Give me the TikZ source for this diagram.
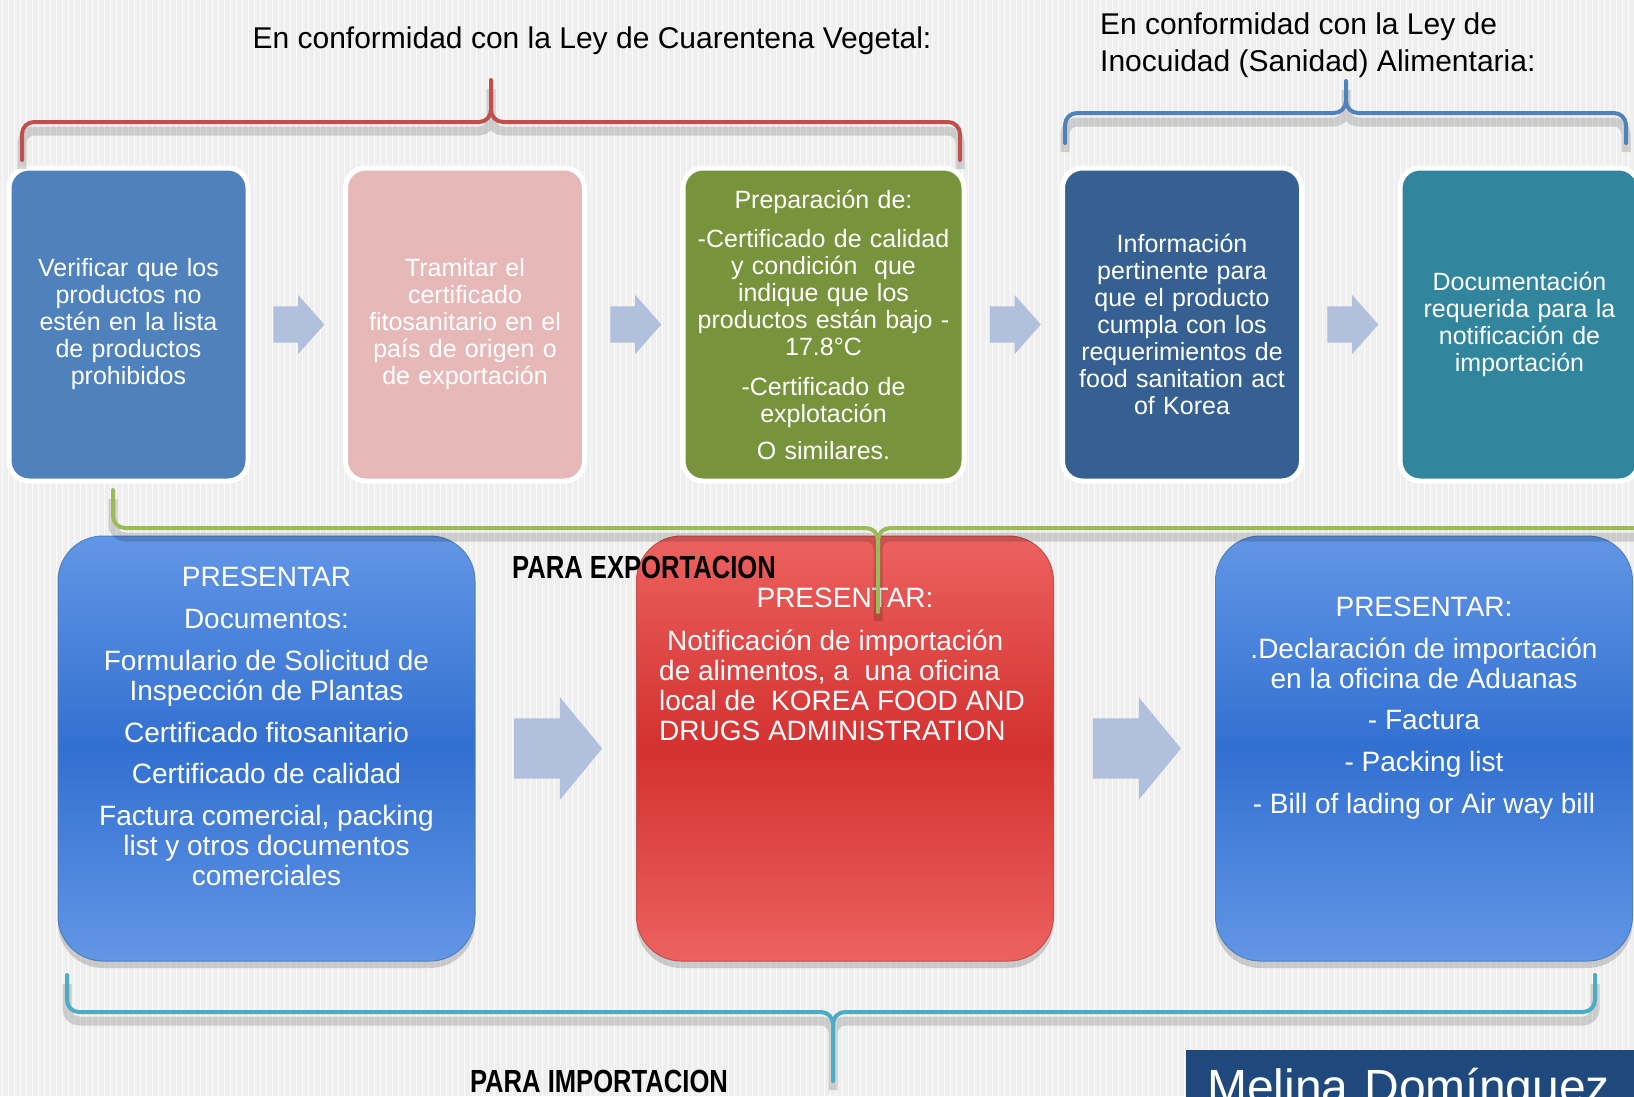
\documentclass[tikz,border=0pt]{standalone}
\usepackage{fontspec}
\setmainfont{Liberation Sans}
\newfontfamily\estrecha[FakeStretch=0.8]{Liberation Sans}
\usetikzlibrary{positioning,calc,shapes.arrows,shadows}

\definecolor{fondo}{RGB}{239,239,239}
\definecolor{azul}{RGB}{79,129,189}
\definecolor{rosa}{RGB}{230,185,184}
\definecolor{verde}{RGB}{119,147,60}
\definecolor{marino}{RGB}{54,96,146}
\definecolor{petroleo}{RGB}{49,133,156}
\definecolor{flecha}{RGB}{176,192,221}
\definecolor{rojo}{RGB}{192,80,77}
\definecolor{lima}{RGB}{155,187,89}
\definecolor{celeste}{RGB}{75,172,198}
\definecolor{nombre}{RGB}{31,73,125}
\definecolor{azulclaro}{RGB}{98,150,230}
\definecolor{azulfuerte}{RGB}{50,112,208}
\definecolor{rojoclaro}{RGB}{236,98,95}
\definecolor{rojofuerte}{RGB}{211,49,48}

\tikzset{
  paso/.style={rectangle, rounded corners=20pt, draw=white, line width=5pt,
    minimum width=239pt, minimum height=313pt, text width=225pt, align=center,
    text=white, inner sep=0pt, font=\fontsize{25}{27}\selectfont},
  caja/.style={rectangle, rounded corners=45pt, line width=1pt, minimum width=417pt,
    minimum height=425pt, inner sep=0pt,
    drop shadow={opacity=0.35, shadow xshift=0pt, shadow yshift=-7pt}},
  texto/.style={text=white, align=center, inner sep=0pt, font=\fontsize{28}{30}\selectfont},
  flechita/.style={single arrow, fill=flecha, inner xsep=0pt, inner ysep=18pt, xshift=-6pt,
    minimum height=51pt, single arrow head extend=11.5pt, single arrow tip angle=97},
  flechota/.style={single arrow, fill=flecha, inner xsep=0pt, inner ysep=30pt, xshift=-10pt,
    minimum height=88pt, single arrow head extend=21pt, single arrow tip angle=101},
  llave/.style={line width=4pt, rounded corners=12pt, line cap=round,
    preaction={draw=black, opacity=0.15, line width=9pt, transform canvas={yshift=-9pt}}},
  titulo/.style={font=\fontsize{30}{37}\selectfont, inner sep=0pt},
  rotulo/.style={font=\estrecha\bfseries\fontsize{32}{34}\selectfont, inner sep=0pt}
}

\begin{document}
\begin{tikzpicture}[x=1pt,y=-1pt]
\useasboundingbox (0,0) rectangle (1634,1096);
\clip (0,0) rectangle (1634,1096);
\fill[fondo] (0,0) rectangle (1634,1096);
\foreach \x in {2,8,...,1634}
\draw[white, line width=1pt, opacity=0.8] (\x,0) -- (\x,1096);

\node[titulo] (cuarentena) at (592,41) {En conformidad con la Ley de Cuarentena Vegetal:};
\node[titulo, anchor=north west, align=left] (inocuidad) at (1100,13) {En conformidad con la Ley de\\Inocuidad (Sanidad) Alimentaria:};

\node[paso, fill=azul] (verificar) at (128.5,324.5) {Verificar que los\\productos no\\estén en la lista\\de productos\\prohibidos};
\node[paso, fill=rosa] (tramitar) at (465,324.5) {Tramitar el\\certificado\\fitosanitario en el\\país de origen o\\de exportación};
\node[paso, fill=verde, minimum width=281pt, text width=270pt] (preparar) at (823.5,324.5) {Preparación de:\\[12pt]-Certificado de calidad\\y condición~ que\\indique que los\\productos están bajo -\\17.8°C\\[13pt]-Certificado de\\explotación\\[10pt]O similares.};
\node[paso, fill=marino] (informar) at (1182,324.5) {Información\\pertinente para\\que el producto\\cumpla con los\\requerimientos de\\food sanitation act\\of Korea};
\node[paso, fill=petroleo] (documentar) at (1519.5,324.5) {Documentación\\requerida para la\\notificación de\\importación};

\node[flechita] (f1) at ($(verificar.east)!0.5!(tramitar.west)$) {};
\node[flechita] (f2) at ($(tramitar.east)!0.5!(preparar.west)$) {};
\node[flechita] (f3) at ($(preparar.east)!0.5!(informar.west)$) {};
\node[flechita] (f4) at ($(informar.east)!0.5!(documentar.west)$) {};

\draw[llave, rojo] (22,160) -- (22,122) -- (491,122) -- (491,80) (491,80) -- (491,122) -- (960,122) -- (960,160);
\draw[llave, azul] (1065,143) -- (1065,113) -- (1346,113) -- (1346,81) (1346,81) -- (1346,113) -- (1626,113) -- (1626,143);

\node[caja, draw=azul, top color=azulclaro, bottom color=azulclaro, middle color=azulfuerte] (presentar) at (266.5,748.5) {};
\node[caja, draw=rojo, top color=rojoclaro, bottom color=rojoclaro, middle color=rojofuerte] (notificar) at (845,748.5) {};
\node[caja, draw=azul, top color=azulclaro, bottom color=azulclaro, middle color=azulfuerte] (declarar) at (1424,748.5) {};

\node[texto, below=31pt of presentar.north] (presentar texto) {PRESENTAR\\[12pt]Documentos:\\[12pt]Formulario de Solicitud de\\Inspección de Plantas\\[12pt]Certificado fitosanitario\\[11pt]Certificado de calidad\\[12pt]Factura comercial, packing\\list y otros documentos\\comerciales};
\node[texto, below=52pt of notificar.north] (notificar titulo) {PRESENTAR:};
\node[texto, align=left, below right=94pt and 23pt of notificar.north west] (notificar texto) {\hspace*{8pt}Notificación de importación\\de alimentos, a~ una oficina\\local de~ KOREA FOOD AND\\DRUGS ADMINISTRATION};
\node[texto, below=61pt of declarar.north] (declarar texto) {PRESENTAR:\\[12pt].Declaración de importación\\en la oficina de Aduanas\\[11pt]- Factura\\[12pt]- Packing list\\[12pt]- Bill of lading or Air way bill};

\node[flechota] (g1) at ($(presentar.east)!0.5!(notificar.west)$) {};
\node[flechota] (g2) at ($(notificar.east)!0.5!(declarar.west)$) {};

\draw[llave, lima] (113,490) -- (113,528) -- (878,528) -- (878,612) (878,612) -- (878,528) -- (1660,528) -- (1660,490);
\node[rotulo] (exportacion) at (644,567) {PARA EXPORTACION};

\draw[llave, celeste] (67,975) -- (67,1012) -- (833,1012) -- (833,1081) (833,1081) -- (833,1012) -- (1595,1012) -- (1595,975);
\node[rotulo] (importacion) at (599,1081) {PARA IMPORTACION};

\node[fill=nombre, text=white, anchor=north west, text width=418pt, align=left, inner xsep=21pt, inner ysep=18pt, text height=35pt, font=\fontsize{48}{50}\selectfont] (autora) at (1186,1050) {Melina Domínguez};
\end{tikzpicture}
\end{document}
